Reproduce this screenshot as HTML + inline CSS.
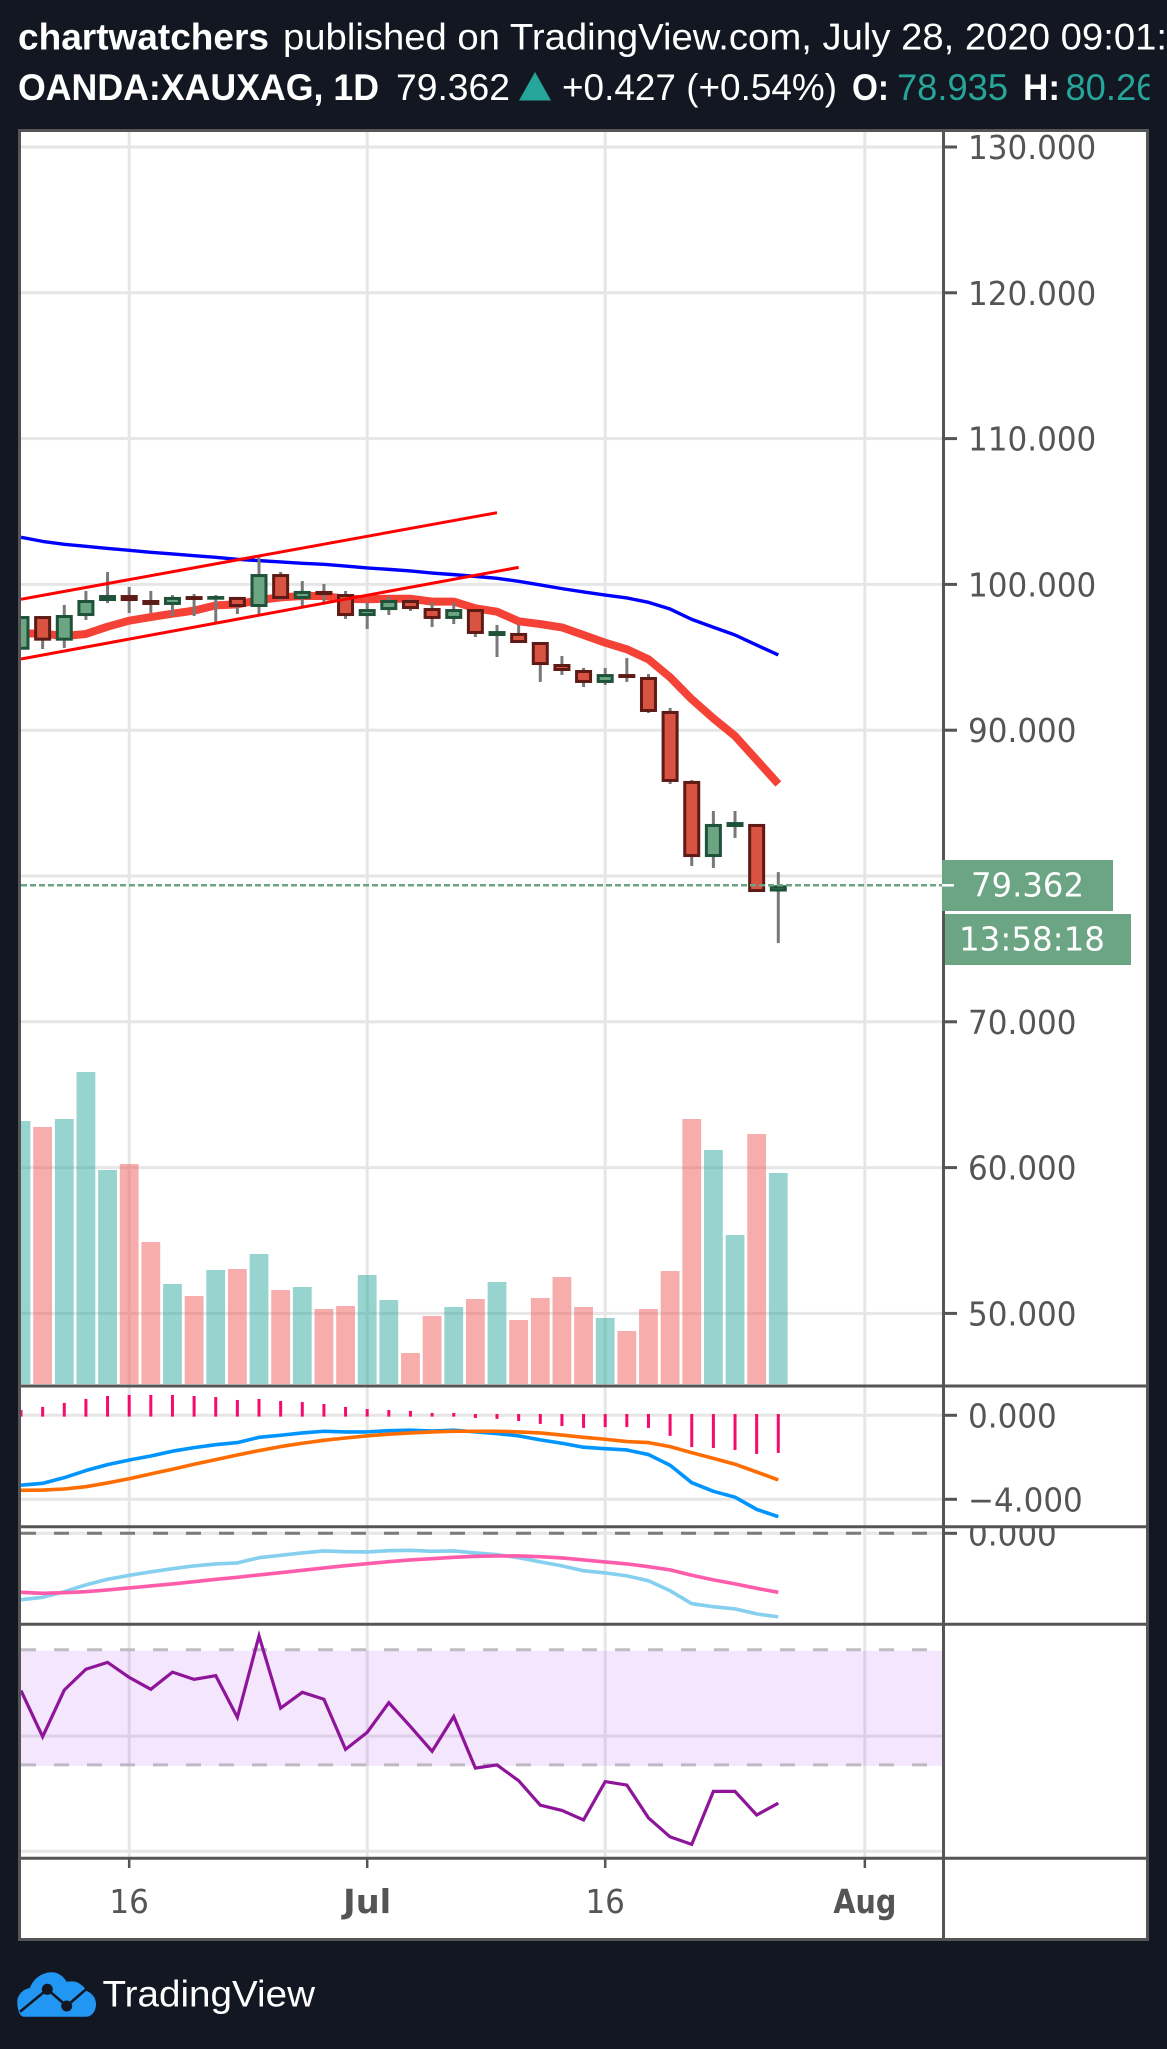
<!DOCTYPE html>
<html lang="en">
<head>
<meta charset="utf-8">
<title>OANDA:XAUXAG 1D chart</title>
<style>
html,body{margin:0;padding:0;background:#131722;}
svg{display:block;}
.hd{font-family:"Liberation Sans",sans-serif;font-size:37px;fill:#fff;}
.hb{font-weight:bold;}
.teal{fill:#26a69a;}
.ax{font-family:"DejaVu Sans","Liberation Sans",sans-serif;font-size:33px;fill:#555;}
.axb{font-family:"DejaVu Sans","Liberation Sans",sans-serif;font-size:33px;fill:#555;font-weight:bold;}
.lbl{font-family:"DejaVu Sans","Liberation Sans",sans-serif;font-size:33px;fill:#fff;}
</style>
</head>
<body>
<svg id="chart" xmlns="http://www.w3.org/2000/svg" width="1167" height="2049" viewBox="0 0 1167 2049">
  <defs>
    <clipPath id="clip-head"><rect x="0" y="0" width="1149.5" height="129"/></clipPath>
    <clipPath id="clip-main"><rect x="21" y="132" width="921" height="1252.5"/></clipPath>
    <clipPath id="clip-macd"><rect x="21" y="1387.5" width="921" height="138"/></clipPath>
    <clipPath id="clip-ppo"><rect x="21" y="1528" width="921" height="95"/></clipPath>
    <clipPath id="clip-rsi"><rect x="21" y="1625.5" width="921" height="231"/></clipPath>
    <clipPath id="clip-ppo-label"><rect x="945" y="1528" width="201" height="95"/></clipPath>
  </defs>

  <rect x="0" y="0" width="1167" height="2049" fill="#131722"/>

  <text class="hd hb" x="18" y="49.3" textLength="251" lengthAdjust="spacingAndGlyphs">chartwatchers</text>
  <text class="hd" x="283" y="49.3" textLength="884" lengthAdjust="spacingAndGlyphs">published on TradingView.com, July 28, 2020 09:01:</text>
  <g clip-path="url(#clip-head)">
    <text class="hd hb" x="18" y="100" textLength="361" lengthAdjust="spacingAndGlyphs">OANDA:XAUXAG, 1D</text>
    <text class="hd" x="396" y="100" textLength="114" lengthAdjust="spacingAndGlyphs">79.362</text>
    <polygon points="535,72 551,100.5 519,100.5" fill="#26a69a"/>
    <text class="hd" x="562" y="100" textLength="275" lengthAdjust="spacingAndGlyphs">+0.427 (+0.54%)</text>
    <text class="hd hb" x="852" y="100" textLength="37" lengthAdjust="spacingAndGlyphs">O:</text>
    <text class="hd teal" x="897" y="100" textLength="111" lengthAdjust="spacingAndGlyphs">78.935</text>
    <text class="hd hb" x="1023" y="100" textLength="37" lengthAdjust="spacingAndGlyphs">H:</text>
    <text class="hd teal" x="1065.5" y="100" textLength="111" lengthAdjust="spacingAndGlyphs">80.268</text>
  </g>

  <rect x="19.5" y="130.5" width="1128" height="1809" fill="#fff" stroke="#555" stroke-width="3"/>

  <g id="grid"></g>
  <g id="volume" clip-path="url(#clip-main)"></g>
  <g id="main" clip-path="url(#clip-main)"></g>
  <g id="macd" clip-path="url(#clip-macd)"></g>
  <g id="ppo" clip-path="url(#clip-ppo)"></g>
  <g id="rsi" clip-path="url(#clip-rsi)"></g>

  <g id="axes"></g>

  <rect x="942" y="860" width="171" height="51" fill="#6ca584"/>
  <line x1="942" y1="885.3" x2="954" y2="885.3" stroke="#fff" stroke-width="2.5"/>
  <text class="lbl" x="971" y="896.5" textLength="113" lengthAdjust="spacingAndGlyphs">79.362</text>
  <rect x="945" y="914" width="186" height="51" fill="#6ca584"/>
  <text class="lbl" x="959" y="950.5" textLength="146" lengthAdjust="spacingAndGlyphs">13:58:18</text>

  <g>
    <path d="M24 2016.7 C19 2016.7 17.3 2008 17.3 2002 C17.3 1995 23 1989 30 1988 C33 1979 42 1972.3 51.7 1972.3 C58 1972.3 63 1976 66.7 1981.7 C71 1981 77 1981 80 1984 C83 1986 85 1988 86.7 1991 C92 1993 96 1998 96 2004 C96 2011 92 2016.7 86 2016.7 Z" fill="#2196f3"/>
    <polyline points="20,2011.7 47.3,1989.3 66.7,2006 86,1989.3" fill="none" stroke="#131722" stroke-width="2.6"/>
    <circle cx="47.3" cy="1989.3" r="5.5" fill="#131722"/>
    <circle cx="66.7" cy="2006" r="5.5" fill="#131722"/>
    <text x="102.5" y="2006.7" textLength="212.5" lengthAdjust="spacingAndGlyphs" style="font-family:'Liberation Sans',sans-serif;font-size:37px;fill:#fff">TradingView</text>
  </g>
</svg>

<script>
// ---------- data ----------
const opens  = [95.52,97.83,96.14,97.83,98.86,99.27,98.93,98.59,99.20,98.95,99.14,98.45,100.71,99.00,99.55,99.34,97.83,98.24,98.93,98.38,97.63,98.31,96.46,96.67,96.05,94.54,94.13,93.24,93.85,93.65,91.32,86.52,81.30,83.36,83.57,78.935];
const closes = [97.83,96.14,97.90,98.93,99.27,98.86,98.59,99.14,98.93,99.20,98.45,100.71,99.00,99.55,99.27,97.83,98.31,98.93,98.31,97.63,98.31,96.60,96.80,95.98,94.47,94.06,93.24,93.85,93.58,91.25,86.45,81.30,83.57,83.70,78.90,79.362];
const highs  = [97.83,97.83,98.59,99.55,100.85,99.82,99.55,99.27,99.34,99.27,99.14,101.86,100.85,100.23,100.03,99.55,98.79,99.14,99.00,98.79,98.72,98.31,97.22,97.22,96.05,95.09,94.27,94.27,94.95,93.85,91.52,86.58,84.46,84.46,83.57,80.27];
const lows   = [95.52,95.57,95.64,97.56,98.72,98.04,98.04,97.83,97.83,97.33,97.97,97.97,98.93,98.38,98.70,97.63,96.94,97.90,98.18,97.08,97.28,96.39,95.02,95.98,93.31,93.79,92.96,93.10,93.31,91.18,86.31,80.69,80.55,82.61,78.90,75.40];
const emaFast = [96.64,96.62,96.46,96.60,97.10,97.51,97.76,97.99,98.20,98.56,98.63,98.93,99.11,99.20,99.20,99.02,98.98,99.02,99.02,98.82,98.82,98.36,98.13,97.47,97.28,97.05,96.53,96.00,95.55,94.86,93.63,92.12,90.81,89.60,87.96,86.31];
const emaSlow = [103.23,102.95,102.75,102.61,102.47,102.34,102.20,102.09,101.97,101.86,101.72,101.63,101.54,101.45,101.38,101.26,101.13,101.03,100.92,100.78,100.67,100.55,100.42,100.21,99.96,99.71,99.48,99.27,99.07,98.77,98.31,97.60,97.06,96.53,95.84,95.16];
const trendUpperBars = [0,22];
const trendUpperPrices = [98.98,104.92];
const trendLowerBars = [0,23];
const trendLowerPrices = [94.88,101.17];
const volumes = [263,257,265,312,214,220,142,100,88,114,115,130,94,97,75,78,109,84,31,68,77,85,102,64,86,107,77,66,53,75,113,265,234,149,250,211];
const macdHist = [0.25,0.40,0.59,0.78,0.92,0.97,0.97,0.97,0.92,0.87,0.73,0.78,0.68,0.63,0.54,0.40,0.30,0.25,0.21,0.11,0.11,-0.13,-0.17,-0.27,-0.41,-0.51,-0.60,-0.56,-0.56,-0.60,-0.98,-1.51,-1.56,-1.65,-1.84,-1.79];
const macdLine = [-3.33,-3.24,-2.97,-2.63,-2.35,-2.13,-1.94,-1.71,-1.54,-1.40,-1.30,-1.05,-0.95,-0.84,-0.76,-0.79,-0.79,-0.73,-0.71,-0.75,-0.71,-0.79,-0.87,-0.98,-1.17,-1.33,-1.52,-1.59,-1.65,-1.87,-2.38,-3.21,-3.62,-3.90,-4.48,-4.83];
const macdSignal = [-3.57,-3.56,-3.51,-3.40,-3.22,-3.02,-2.79,-2.57,-2.33,-2.11,-1.89,-1.68,-1.49,-1.33,-1.19,-1.08,-0.98,-0.90,-0.84,-0.79,-0.76,-0.76,-0.76,-0.79,-0.84,-0.94,-1.05,-1.14,-1.25,-1.30,-1.49,-1.78,-2.05,-2.33,-2.70,-3.08];
const oscFast = [-3.32,-3.20,-2.92,-2.58,-2.30,-2.10,-1.93,-1.77,-1.63,-1.53,-1.48,-1.22,-1.10,-0.98,-0.88,-0.92,-0.93,-0.87,-0.85,-0.90,-0.88,-0.98,-1.07,-1.22,-1.43,-1.63,-1.87,-1.98,-2.13,-2.37,-2.87,-3.52,-3.67,-3.78,-4.03,-4.18];
const oscSlow = [-2.95,-3.00,-2.97,-2.92,-2.83,-2.73,-2.63,-2.53,-2.42,-2.30,-2.20,-2.08,-1.97,-1.85,-1.73,-1.62,-1.52,-1.42,-1.33,-1.27,-1.20,-1.15,-1.13,-1.13,-1.17,-1.23,-1.33,-1.43,-1.53,-1.67,-1.83,-2.10,-2.33,-2.53,-2.75,-2.95];
const rsiValues = [55.8,39.8,56.0,63.2,65.6,60.4,56.25,62.2,59.7,61.0,46.5,74.8,49.7,55.2,52.8,35.4,41.3,51.6,43.3,34.7,46.8,28.9,30.0,24.5,16.0,14.2,10.9,24.2,23.0,11.6,5.0,2.4,20.8,20.8,12.6,16.7];
const lastPrice = 79.362;
const priceGridValues = [130,120,110,100,90,80,70,60,50];
const priceTickLabels = ['130.000','120.000','110.000','100.000','90.000','70.000','60.000','50.000'];
const macdTickLabels = ['0.000','−4.000'];
const macdTickValues = [0,-4];
const oscTickLabels = ['0.000'];
const oscTickValues = [0];
const timeTickBars = [5,16,27,39];
const timeTickLabels = ['16','Jul','16','Aug'];
const timeTickBold = [false,true,false,true];

// ---------- axis functions ----------
const xBar = i => 21 + 21.637 * i;
const yPrice = v => 147 + (130 - v) * 14.58;
const yVol = v => 1384 - v;
const yMacd = v => 1415.3 - v * 21;
const yOsc = v => 1533.3 - v * 20;
const yRsi = v => 1851.3 - v * 2.88;

const NS = 'http://www.w3.org/2000/svg';
function make(tag, attrs, parent) {
  const el = document.createElementNS(NS, tag);
  for (const k in attrs) el.setAttribute(k, attrs[k]);
  parent.appendChild(el);
  return el;
}
function linePoints(values, yFn) {
  return values.map((v, i) => xBar(i).toFixed(2) + ',' + yFn(v).toFixed(2)).join(' ');
}

// ---------- grid ----------
const gridG = document.getElementById('grid');
priceGridValues.forEach(v => {
  const l = make('line', {x1:21, x2:942, y1:yPrice(v), y2:yPrice(v), stroke:'#e6e6e6', 'stroke-width':3}, gridG);
  
  
});
macdTickValues.forEach(v => {
  const l = make('line', {x1:21, x2:942, y1:yMacd(v), y2:yMacd(v), stroke:'#e6e6e6', 'stroke-width':3}, gridG);
  
  
});
oscTickValues.forEach(v => {
  const l = make('line', {x1:21, x2:942, y1:yOsc(v), y2:yOsc(v), stroke:'#e6e6e6', 'stroke-width':3}, gridG);
  
  
});
[0,40].forEach(v => {
  const l = make('line', {x1:21, x2:942, y1:yRsi(v), y2:yRsi(v), stroke:'#e6e6e6', 'stroke-width':3}, gridG);
  
  
});
timeTickBars.forEach(b => {
  const l = make('line', {x1:xBar(b), x2:xBar(b), y1:132, y2:1857, stroke:'#e6e6e6', 'stroke-width':3}, gridG);
  
  
});

// ---------- volume ----------
const volG = document.getElementById('volume');
volumes.forEach((v, i) => {
  const up = closes[i] >= opens[i];
  const r = make('rect', {x:xBar(i)-9.4, width:18.8, y:yVol(v), height:1384-yVol(v), fill: up ? '#26a69a' : '#ef5350', 'fill-opacity':0.48}, volG);
  
  
});

// ---------- price pane ----------
const mainG = document.getElementById('main');
const fastLine = make('polyline', {points:linePoints(emaFast, yPrice), fill:'none', stroke:'#f44336', 'stroke-width':8, 'stroke-linejoin':'round'}, mainG);



const slowLine = make('polyline', {points:linePoints(emaSlow, yPrice), fill:'none', stroke:'#0000ff', 'stroke-width':3.4, 'stroke-linejoin':'round'}, mainG);



closes.forEach((c, i) => {
  const w = make('line', {x1:xBar(i), x2:xBar(i), y1:yPrice(highs[i]), y2:yPrice(lows[i]), stroke:'#787878', 'stroke-width':3}, mainG);
  
  
});
closes.forEach((c, i) => {
  const up = c >= opens[i];
  const top = yPrice(Math.max(c, opens[i]));
  const bot = yPrice(Math.min(c, opens[i]));
  const b = make('rect', {x:xBar(i)-7, width:14, y:top+1.5, height:Math.max(0.5, bot-top-3), fill: up ? '#6ca584' : '#d95342', stroke: up ? '#1f5238' : '#5e1a14', 'stroke-width':3}, mainG);
  
  
});

const priceLine = make('line', {x1:21, x2:942, y1:yPrice(lastPrice), y2:yPrice(lastPrice), stroke:'#6ca584', 'stroke-width':2.5, 'stroke-dasharray':'6 3'}, mainG);



const trendUpper = make('line', {x1:xBar(trendUpperBars[0]), y1:yPrice(trendUpperPrices[0]), x2:xBar(trendUpperBars[1]), y2:yPrice(trendUpperPrices[1]), stroke:'#ff0000', 'stroke-width':3}, mainG);



const trendLower = make('line', {x1:xBar(trendLowerBars[0]), y1:yPrice(trendLowerPrices[0]), x2:xBar(trendLowerBars[1]), y2:yPrice(trendLowerPrices[1]), stroke:'#ff0000', 'stroke-width':3}, mainG);



// ---------- MACD pane ----------
const macdG = document.getElementById('macd');
macdHist.forEach((v, i) => {
  const y0 = yMacd(0), y1 = yMacd(v);
  const top = v >= 0 ? y1 : y0 - 1.3;
  const bot = v >= 0 ? y0 + 1.3 : y1;
  const r = make('rect', {x:xBar(i)-1.5, width:3, y:top, height:bot-top, fill:'#f50a6e'}, macdG);
  
  
});
const macdPath = make('polyline', {points:linePoints(macdLine, yMacd), fill:'none', stroke:'#0094ff', 'stroke-width':3.6, 'stroke-linejoin':'round'}, macdG);


const signalPath = make('polyline', {points:linePoints(macdSignal, yMacd), fill:'none', stroke:'#ff6d00', 'stroke-width':3.6, 'stroke-linejoin':'round'}, macdG);



// ---------- second oscillator pane ----------
const ppoG = document.getElementById('ppo');
const zeroDash = make('line', {x1:21, x2:943, y1:yOsc(0), y2:yOsc(0), stroke:'#7b7b7b', 'stroke-width':3, 'stroke-dasharray':'15 18'}, ppoG);


const oscFastPath = make('polyline', {points:linePoints(oscFast, yOsc), fill:'none', stroke:'#85cfef', 'stroke-width':3.6, 'stroke-linejoin':'round'}, ppoG);


const oscSlowPath = make('polyline', {points:linePoints(oscSlow, yOsc), fill:'none', stroke:'#ff5cab', 'stroke-width':3.6, 'stroke-linejoin':'round'}, ppoG);



// ---------- RSI pane ----------
const rsiG = document.getElementById('rsi');
const band = make('rect', {x:21, width:921, y:yRsi(70)+1, height:yRsi(30)-yRsi(70), fill:'rgb(145,5,235)', 'fill-opacity':0.1}, rsiG);


[70,30].forEach(v => {
  const d = make('line', {x1:21, x2:943, y1:yRsi(v), y2:yRsi(v), stroke:'#b5b0ba', 'stroke-opacity':0.85, 'stroke-width':3, 'stroke-dasharray':'15 18'}, rsiG);
  
  
});
const rsiPath = make('polyline', {points:linePoints(rsiValues, yRsi), fill:'none', stroke:'#8e1599', 'stroke-width':3.2, 'stroke-linejoin':'miter'}, rsiG);



// ---------- axes and separators ----------
const axG = document.getElementById('axes');
[1386,1526.7,1624.3,1858.3].forEach(y => {
  const s = make('line', {x1:21, x2:1146, y1:y, y2:y, stroke:'#555', 'stroke-width':3}, axG);
  
  
});
const priceAxis = make('line', {x1:943.5, x2:943.5, y1:132, y2:1938, stroke:'#555', 'stroke-width':3}, axG);



function condense(tx) {
  tx.setAttribute('textLength', (tx.getComputedTextLength() * 0.94).toFixed(1));
  tx.setAttribute('lengthAdjust', 'spacingAndGlyphs');
}
function yTick(y, label, name, clip) {
  const t = make('line', {x1:943, x2:957, y1:y, y2:y, stroke:'#555', 'stroke-width':3}, axG);
  
  
  const tx = make('text', {x:968, y:y + 12, class:'ax'}, axG);
  
  
  if (clip) tx.setAttribute('clip-path', clip);
  tx.textContent = label;
  condense(tx);
}
priceTickLabels.forEach(l => yTick(yPrice(parseFloat(l)), l, 'price-axis'));
macdTickLabels.forEach((l, i) => yTick(yMacd(macdTickValues[i]), l, 'macd-axis'));
oscTickLabels.forEach((l, i) => yTick(yOsc(oscTickValues[i]), l, 'oscillator-axis', 'url(#clip-ppo-label)'));

timeTickBars.forEach((b, i) => {
  const t = make('line', {x1:xBar(b), x2:xBar(b), y1:1859, y2:1868, stroke:'#555', 'stroke-width':2.5}, axG);
  
  
  const tx = make('text', {x:xBar(b), y:1913, 'text-anchor':'middle', class: timeTickBold[i] ? 'axb' : 'ax'}, axG);
  
  
  tx.textContent = timeTickLabels[i];
  if (timeTickBold[i]) {
    tx.setAttribute('textLength', timeTickLabels[i] === 'Aug' ? 63 : 48);
    tx.setAttribute('lengthAdjust', 'spacingAndGlyphs');
  } else {
    condense(tx);
  }
});
</script>
</body>
</html>
